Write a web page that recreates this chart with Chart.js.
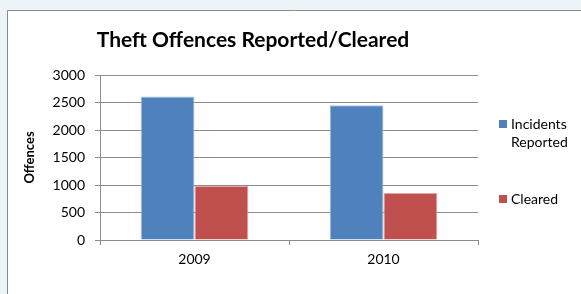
<!DOCTYPE html>
<html>
<head>
<meta charset="utf-8">
<script src="https://cdn.jsdelivr.net/npm/chart.js@4"></script>
<style>
  html, body { margin: 0; padding: 0; background: #edf4f7; }
  #wrap { position: absolute; left: 0; top: 0; width: 581px; height: 294px; }
</style>
</head>
<body>
<div id="wrap"><canvas id="theftChart" width="581" height="294"></canvas></div>
<script>
// --- data ---
const years = ['2009', '2010'];
const reported = [2610, 2450];
const cleared = [980, 855];
const yTicks = [0, 500, 1000, 1500, 2000, 2500, 3000];

const FONT = 'Lato, "Liberation Sans", sans-serif';
const BLUE = '#4f81bd';
const RED = '#c0504d';

// frame, title and legend drawn around the plot
const decor = {
    id: 'decor',
    beforeDraw(chart) {
        const c = chart.ctx;
        c.save();
        c.fillStyle = '#edf4f7';
        c.fillRect(0, 0, chart.width, chart.height);
        c.fillStyle = '#ffffff';
        c.fillRect(7, 10, chart.width, chart.height);
        c.strokeStyle = '#8c8c8c';
        c.lineWidth = 1;
        c.beginPath();
        c.moveTo(7.5, chart.height);
        c.lineTo(7.5, 10.5);
        c.lineTo(chart.width, 10.5);
        c.stroke();
        c.restore();
    },
    afterDraw(chart) {
        const c = chart.ctx;
        const area = chart.chartArea;
        c.save();
        c.fillStyle = '#000';
        c.font = 'bold 21px ' + FONT;
        c.textAlign = 'center';
        c.textBaseline = 'middle';
        c.fillText('Theft Offences Reported/Cleared', 253, 40);

        // legend
        const items = [
            { color: BLUE, lines: ['Incidents', 'Reported'], y: 124 },
            { color: RED, lines: ['Cleared'], y: 199 }
        ];
        c.font = '14px ' + FONT;
        c.textAlign = 'left';
        items.forEach(it => {
            c.fillStyle = it.color;
            c.fillRect(area.right + 21, it.y - 4, 8, 8);
            c.fillStyle = '#000';
            it.lines.forEach((t, i) => c.fillText(t, area.right + 33, it.y + i * 18));
        });
        c.restore();
    }
};

new Chart(document.getElementById('theftChart').getContext('2d'), {
    type: 'bar',
    data: {
        labels: years,
        datasets: [
            { label: 'Incidents Reported', data: reported, backgroundColor: BLUE, borderColor: '#a9c1e0', borderWidth: 1 },
            { label: 'Cleared', data: cleared, backgroundColor: RED, borderColor: '#e0a9a8', borderWidth: 1 }
        ]
    },
    options: {
        responsive: false,
        animation: false,
        layout: { padding: { left: 22, top: 75, right: 103, bottom: 24 } },
        datasets: { bar: { barPercentage: 1, categoryPercentage: 0.57 } },
        plugins: { legend: { display: false }, title: { display: false }, tooltip: { enabled: false } },
        scales: {
            x: {
                afterFit(s) { s.height = 30; },
                grid: { offset: true, drawOnChartArea: false, drawTicks: true, tickLength: 5, color: '#8c8c8c' },
                border: { color: '#8c8c8c' },
                ticks: { color: '#000', font: { family: FONT, size: 14 }, padding: 6 }
            },
            y: {
                min: 0,
                max: 3000,
                afterFit(s) { s.width = 78; },
                afterBuildTicks(s) { s.ticks = yTicks.map(v => ({ value: v })); },
                grid: { color: '#8c8c8c', tickLength: 5 },
                border: { color: '#8c8c8c' },
                ticks: { color: '#000', font: { family: FONT, size: 14 }, padding: 10, callback: v => String(v) },
                title: { display: true, text: 'Offences', color: '#000', font: { family: FONT, size: 13, weight: 'bold' }, padding: 0 }
            }
        }
    },
    plugins: [decor]
});
</script>
</body>
</html>
